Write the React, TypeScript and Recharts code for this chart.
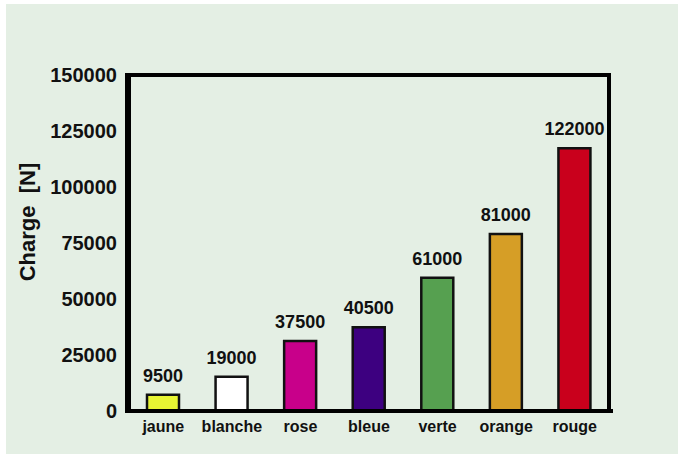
import { Bar, BarChart, Cell, LabelList, ReferenceArea, XAxis, YAxis } from "recharts"

const categories = ["jaune", "blanche", "rose", "bleue", "verte", "orange", "rouge"]
const barHeights = [7300, 15300, 31300, 37400, 59500, 79000, 117300]
const labelValues = ["9500", "19000", "37500", "40500", "61000", "81000", "122000"]
const colors = ["#e8f533", "#ffffff", "#c8008a", "#3d0080", "#56a050", "#d69e26", "#c9001c"]
const yTicks = [0, 25000, 50000, 75000, 100000, 125000, 150000]

const data = categories.map((name, i) => ({
  name,
  charge: barHeights[i],
  label: labelValues[i],
}))

const FONT = "'Liberation Sans', Arial, Helvetica, sans-serif"
const axisLine = { stroke: "#000", strokeWidth: 4, strokeLinecap: "square" as const }

const renderValue = (props: any) => {
  const { x, y, width, index } = props
  return (
    <text
      x={Number(x) + Number(width) / 2}
      y={Number(y) - 13}
      textAnchor="middle"
      fontFamily={FONT}
      fontWeight="bold"
      fontSize={18}
      fill="#111"
    >
      {labelValues[index]}
    </text>
  )
}

const renderYLabel = () => (
  <text
    transform="translate(35,222) rotate(-90)"
    textAnchor="middle"
    fontFamily={FONT}
    fontWeight="bold"
    fontSize={22}
    fill="#111"
    style={{ whiteSpace: "pre" }}
  >
    {"Charge  [N]"}
  </text>
)

export default function App() {
  return (
    <div style={{ position: "absolute", left: 0, top: 0, width: 678, height: 454, background: "#fff" }}>
      <style>{"body{margin:0}"}</style>
      <div style={{ position: "absolute", left: 6, top: 4, width: 672, height: 450, background: "#e4efe4" }} />
      <div style={{ position: "absolute", left: 0, top: 0 }}>
        <BarChart width={678} height={454} data={data} margin={{ top: 75, right: 67, bottom: 13, left: 27 }}>
          <XAxis
            dataKey="name"
            tickLine={false}
            axisLine={axisLine}
            tickSize={0}
            tickMargin={10}
            height={30}
            padding={{ left: 2, right: 2 }}
            tick={{ fontFamily: FONT, fontWeight: "bold", fontSize: 16, fill: "#111" }}
          />
          <YAxis
            domain={[0, 150000]}
            ticks={yTicks}
            interval={0}
            tickLine={false}
            axisLine={axisLine}
            tickSize={0}
            tickMargin={10}
            width={100}
            tick={{ fontFamily: FONT, fontWeight: "bold", fontSize: 20, fill: "#111" }}
            label={renderYLabel}
          />
          <ReferenceArea
            y1={0}
            y2={150000}
            fill="none"
            stroke="#000"
            strokeWidth={4}
            strokeLinejoin="miter"
            ifOverflow="visible"
          />
          <Bar dataKey="charge" barSize={32} stroke="#111" strokeWidth={2.5} isAnimationActive={false}>
            {data.map((d, i) => (
              <Cell key={d.name} fill={colors[i]} />
            ))}
            <LabelList dataKey="label" content={renderValue} />
          </Bar>
        </BarChart>
      </div>
    </div>
  )
}
